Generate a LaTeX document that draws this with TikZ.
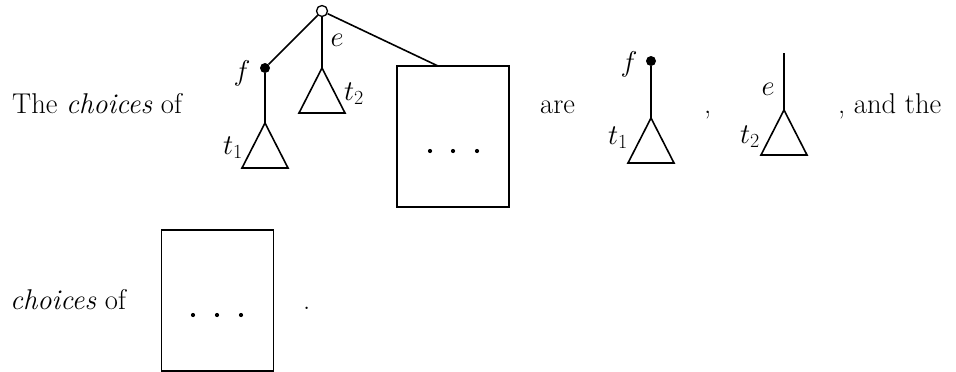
\RequirePackage{fix-cm}
\documentclass[tikz,border=0pt]{standalone}
\begin{document}
\begin{tikzpicture}[x=1pt,y=-1pt,
  every node/.style={font=\fontsize{28.6}{34}\selectfont, inner sep=0pt},
  edge/.style={line width=1.6pt},
  opencirc/.style={circle, draw, fill=white, line width=1.3pt, minimum size=11pt},
  filldot/.style={circle, fill=black, minimum size=10pt},
  smalldot/.style={circle, fill=black, minimum size=4.2pt},
  boxst/.style={draw, line width=1.6pt, minimum width=112pt, minimum height=141pt},
  lbl/.style={anchor=center}]
\useasboundingbox (0,0) rectangle (956,372);
% row 1 text
\node[anchor=base west] (txtA) at (12,113) {The \emph{choices} of};
\node[anchor=base west] (txtB) at (540,113) {are};
\node[anchor=base west] (txtC) at (704,113) {,};
\node[anchor=base west] (txtD) at (838,113) {, and the};
% row 2 text
\node[anchor=base west] (txtE) at (10,309) {\emph{choices} of};
\node[anchor=base west] (txtF) at (303,309) {.};
% tree 1
\node[boxst] (box1) at (453,136.5) {};
\node[smalldot] (d11) at (430,151) {};
\node[smalldot] (d12) at (453,151) {};
\node[smalldot] (d13) at (477,151) {};
\coordinate (bt) at (438,66);
\node[opencirc] (root) at (322,11) {};
\node[filldot] (f1) at (265,68) {};
\coordinate (a1) at (265,123);
\coordinate (a2) at (322,68);
\draw[edge] (root) -- (f1);
\draw[edge] (root) -- (a2);
\draw[edge] (root) -- (bt);
\draw[edge] (f1) -- (a1);
\draw[edge, line join=miter] (a1) -- ++(-23,45) -- ++(46,0) -- cycle;
\draw[edge, line join=miter] (a2) -- ++(-23,45) -- ++(46,0) -- cycle;
\node[lbl] (lf1) at (242,73) {$f$};
\node[lbl] (le1) at (337,40) {$e$};
\node[lbl] (lt2a) at (354,94) {$t_2$};
\node[lbl] (lt1a) at (233,148) {$t_1$};
% tree 2
\node[filldot] (f2) at (651,61) {};
\coordinate (a3) at (651,118);
\draw[edge] (f2) -- (a3);
\draw[edge, line join=miter] (a3) -- ++(-23,45) -- ++(46,0) -- cycle;
\node[lbl] (lf2) at (629,64) {$f$};
\node[lbl] (lt1b) at (618,138) {$t_1$};
% tree 3
\coordinate (e3top) at (784,53);
\coordinate (a4) at (784,110);
\draw[edge] (e3top) -- (a4);
\draw[edge, line join=miter] (a4) -- ++(-23,45) -- ++(46,0) -- cycle;
\node[lbl] (le3) at (768,89) {$e$};
\node[lbl] (lt2b) at (750,137) {$t_2$};
% row 2 box
\node[boxst] (box2) at (217.5,300.5) {};
\node[smalldot] (d21) at (193,315) {};
\node[smalldot] (d22) at (217,315) {};
\node[smalldot] (d23) at (241,315) {};
\end{tikzpicture}
\end{document}
